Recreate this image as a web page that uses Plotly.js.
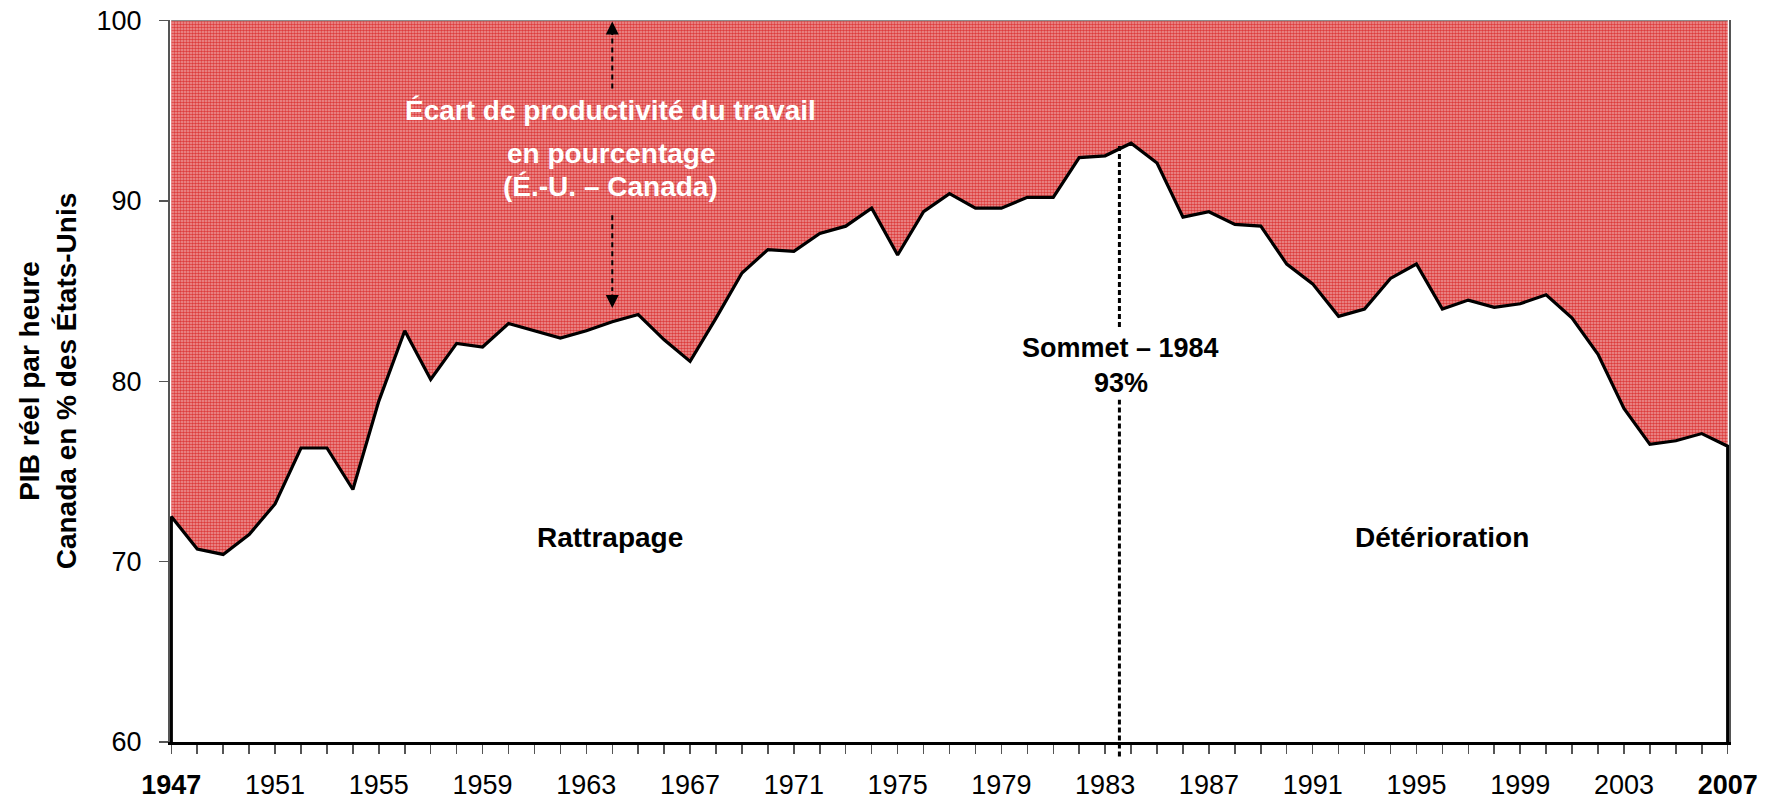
<!DOCTYPE html>
<html>
<head>
<meta charset="utf-8">
<script src="https://cdn.plot.ly/plotly-3.0.1.min.js"></script>
<style>
  html, body { margin: 0; padding: 0; background: #ffffff; }
  #chart { width: 1771px; height: 801px; }
</style>
</head>
<body>
<div id="chart"></div>
<script>
// ---- Data ----
const years = [1947,1948,1949,1950,1951,1952,1953,1954,1955,1956,1957,1958,1959,1960,
  1961,1962,1963,1964,1965,1966,1967,1968,1969,1970,1971,1972,1973,1974,1975,1976,
  1977,1978,1979,1980,1981,1982,1983,1984,1985,1986,1987,1988,1989,1990,1991,1992,
  1993,1994,1995,1996,1997,1998,1999,2000,2001,2002,2003,2004,2005,2006,2007];

// PIB réel par heure, Canada en % des États-Unis
const canadaPct = [72.5,70.7,70.4,71.5,73.2,76.3,76.3,74.0,78.9,82.8,80.1,82.1,81.9,83.2,
  82.8,82.4,82.8,83.3,83.7,82.3,81.1,83.5,86.0,87.3,87.2,88.2,88.6,89.6,87.0,89.4,
  90.4,89.6,89.6,90.2,90.2,92.4,92.5,93.2,92.1,89.1,89.4,88.7,88.6,86.5,85.4,83.6,
  84.0,85.7,86.5,84.0,84.5,84.1,84.3,84.8,83.5,81.5,78.5,76.5,76.7,77.1,76.4];

const usLevel = 100;            // États-Unis = 100
const yMin = 60;
const xTickVals = [1947,1951,1955,1959,1963,1967,1971,1975,1979,1983,1987,1991,1995,1999,2003,2007];
const xTickText = ['<b>1947</b>','1951','1955','1959','1963','1967','1971','1975','1979','1983','1987','1991','1995','1999','2003','<b>2007</b>'];
const yTickVals = [60,70,80,90,100];

const peakYear = 1984;

// ---- Build traces ----
const firstYear = years[0], lastYear = years[years.length - 1];
const topLine = years.map(() => usLevel);

// closed outline of the Canada series (down to the axis at both ends)
const outlineX = [firstYear].concat(years, [lastYear]);
const outlineY = [yMin].concat(canadaPct, [yMin]);
const topX = [firstYear].concat(years, [lastYear]);
const topY = [usLevel].concat(topLine, [usLevel]);

const FONT = 'Liberation Sans, Arial, Helvetica, sans-serif';

const traces = [
  {
    x: topX, y: topY, type: 'scatter', mode: 'lines',
    line: { color: '#8c8c8c', width: 1.5 },
    hoverinfo: 'skip', showlegend: false
  },
  {
    x: outlineX, y: outlineY, type: 'scatter', mode: 'lines',
    fill: 'tonexty',
    fillcolor: '#E36A6A',
    fillpattern: { shape: '.', bgcolor: '#EE9A9A', fgcolor: '#DC3C3C', size: 3, solidity: 0.55 },
    line: { color: '#000000', width: 3.2 },
    hoverinfo: 'x+y', showlegend: false
  }
];

const peakIdx = years.indexOf(peakYear);

const layout = {
  width: 1771, height: 801,
  margin: { l: 170, r: 42, t: 20, b: 59, pad: 0 },
  paper_bgcolor: '#ffffff', plot_bgcolor: '#ffffff',
  font: { family: FONT, size: 27, color: '#000000' },
  showlegend: false,
  xaxis: {
    range: [1946.95, 2007.05],
    tickmode: 'array', tickvals: xTickVals, ticktext: xTickText,
    ticks: 'outside', ticklen: 9, tickwidth: 1.5, tickcolor: '#555555',
    ticklabelstandoff: 8,
    minor: { tickmode: 'linear', tick0: 1947, dtick: 1, ticks: 'outside', ticklen: 9, tickwidth: 1.5, tickcolor: '#555555', showgrid: false },
    showline: true, linecolor: '#000000', linewidth: 3,
    showgrid: false, zeroline: false,
    tickfont: { family: FONT, size: 27, color: '#000000' }
  },
  yaxis: {
    range: [yMin, usLevel + 0.03],
    tickmode: 'array', tickvals: yTickVals,
    ticks: 'outside', ticklen: 9, tickwidth: 1.5, tickcolor: '#555555',
    ticklabelstandoff: 12,
    showline: true, linecolor: '#555555', linewidth: 2, mirror: true,
    showgrid: false, zeroline: false,
    tickfont: { family: FONT, size: 27, color: '#000000' },
    title: {
      text: 'PIB réel par heure<br>Canada en % des États-Unis',
      font: { family: FONT, size: 28, color: '#000000', weight: 'bold' },
      standoff: 12
    }
  },
  shapes: [
    // peak dashed line (extends slightly below the axis), broken around its label
    { type: 'line', xref: 'x', yref: 'y', x0: peakYear - 0.45, x1: peakYear - 0.45,
      y0: canadaPct[peakIdx] - 0.15, y1: 82.95,
      line: { color: '#000000', width: 3, dash: '5px,3px' } },
    { type: 'line', xref: 'x', yref: 'paper', x0: peakYear - 0.45, x1: peakYear - 0.45,
      y0: -0.02, y1: 0.495,
      line: { color: '#000000', width: 3, dash: '5px,3px' } },
    // gap arrow dashed segments
    { type: 'line', xref: 'x', yref: 'y', x0: 1964, x1: 1964, y0: 99.0, y1: 96.2,
      line: { color: '#000000', width: 2, dash: '5px,4px' } },
    { type: 'line', xref: 'x', yref: 'y', x0: 1964, x1: 1964, y0: 89.2, y1: 85.0,
      line: { color: '#000000', width: 2, dash: '5px,4px' } }
  ],
  annotations: [
    { x: 1964, y: usLevel, xref: 'x', yref: 'y', ax: 0, ay: 16, text: '', showarrow: true,
      arrowhead: 2, arrowsize: 1.3, arrowwidth: 2, arrowcolor: '#000000', standoff: 1 },
    { x: 1964, y: 84.0, xref: 'x', yref: 'y', ax: 0, ay: -16, text: '', showarrow: true,
      arrowhead: 2, arrowsize: 1.3, arrowwidth: 2, arrowcolor: '#000000', standoff: 1 },
    { x: 1963.95, y: 95.0, xref: 'x', yref: 'y', showarrow: false,
      text: '<b>Écart de productivité du travail</b>',
      font: { family: FONT, size: 28, color: '#ffffff' } },
    { x: 1963.95, y: 92.65, xref: 'x', yref: 'y', showarrow: false,
      text: '<b>en pourcentage</b>',
      font: { family: FONT, size: 28, color: '#ffffff' } },
    { x: 1963.95, y: 90.8, xref: 'x', yref: 'y', showarrow: false,
      text: '<b>(É.-U. – Canada)</b>',
      font: { family: FONT, size: 28, color: '#ffffff' } },
    { x: 1983.6, y: 81.82, xref: 'x', yref: 'y', showarrow: false,
      text: '<b>Sommet – 1984</b>', bgcolor: '#ffffff',
      font: { family: FONT, size: 27, color: '#000000' } },
    { x: 1983.6, y: 79.93, xref: 'x', yref: 'y', showarrow: false,
      text: '<b>93%</b>', bgcolor: '#ffffff',
      font: { family: FONT, size: 27, color: '#000000' } },
    { x: 1963.9, y: 71.36, xref: 'x', yref: 'y', showarrow: false,
      text: '<b>Rattrapage</b>',
      font: { family: FONT, size: 28, color: '#000000' } },
    { x: 1996.0, y: 71.36, xref: 'x', yref: 'y', showarrow: false,
      text: '<b>Détérioration</b>',
      font: { family: FONT, size: 28, color: '#000000' } }
  ]
};

Plotly.newPlot('chart', traces, layout, { displayModeBar: false, staticPlot: true });
</script>
</body>
</html>
